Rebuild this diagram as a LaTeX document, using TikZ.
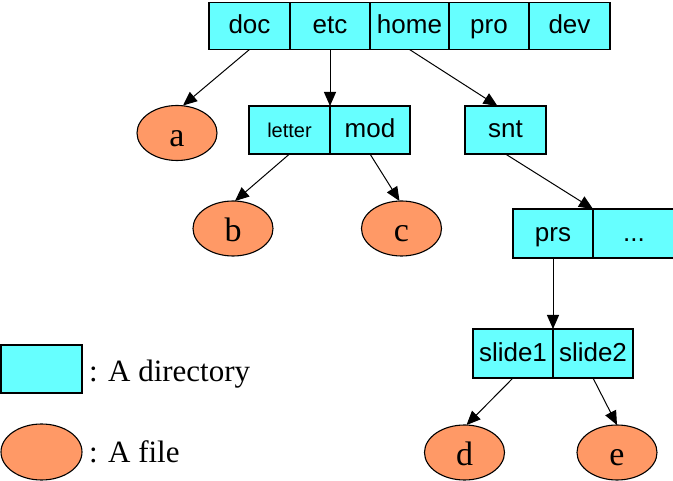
\documentclass[tikz,border=0pt]{standalone}
\usepackage{fontspec}
\setmainfont{Liberation Serif}
\setsansfont{Liberation Sans}
\usetikzlibrary{shapes.geometric,arrows.meta}
\definecolor{dircyan}{HTML}{66FFFF}
\definecolor{fileorange}{HTML}{FF9966}
\begin{document}
\begin{tikzpicture}[x=1pt,y=-1pt,
  dirbox/.style={draw=black, line width=1.1pt, fill=dircyan, minimum height=47, inner sep=0, outer sep=0,
    font=\sffamily\fontsize{26}{30}\selectfont, text height=20, text depth=4},
  filenode/.style={ellipse, draw=black, line width=1.1pt, fill=fileorange, minimum width=80, minimum height=55,
    inner sep=0, outer sep=0, font=\rmfamily\fontsize{34}{38}\selectfont, text height=28, text depth=1},
  legendtext/.style={anchor=base west, inner sep=0, font=\rmfamily\fontsize{31}{35}\selectfont},
  arr/.style={-{Triangle[length=14pt,width=12pt]}, line width=1pt}
]
\clip (0,0) rectangle (673,481);
% top row
\node[dirbox, minimum width=81] (doc)  at (249.5,26) {doc};
\node[dirbox, minimum width=80] (etc)  at (330,26)   {etc};
\node[dirbox, minimum width=79] (home) at (409.5,26) {home};
\node[dirbox, minimum width=80] (pro)  at (489,26)   {pro};
\node[dirbox, minimum width=81] (dev)  at (569.5,26) {dev};
% second level
\node[dirbox, minimum width=81, minimum height=48] (letter) at (289.5,130) {\fontsize{20}{24}\selectfont letter};
\node[dirbox, minimum width=80, minimum height=48] (mod)    at (370,130)   {mod};
\node[dirbox, minimum width=81, minimum height=48] (snt)    at (505.5,130) {snt};
\node[dirbox, minimum width=80, minimum height=49] (prs)    at (553,233.5) {prs};
\node[dirbox, minimum width=82, minimum height=49] (dots)   at (634,233.5) {...};
\node[dirbox, minimum width=80, minimum height=49] (slide1) at (513,353.5) {slide1};
\node[dirbox, minimum width=80, minimum height=49] (slide2) at (593,353.5) {slide2};
% files
\node[filenode] (a) at (177,133) {a};
\node[filenode] (b) at (233,228.5) {b};
\node[filenode] (c) at (401.5,228.5) {c};
\node[filenode] (d) at (464.5,452.5) {d};
\node[filenode] (e) at (617,452.5) {e};
% legend
\node[dirbox, minimum width=81, minimum height=48] (ldir) at (41.5,369) {};
\node[filenode, minimum width=81, minimum height=56] (lfile) at (41.5,452) {};
\node[legendtext] (tdir) at (89,382) {: A directory};
\node[legendtext] (tfile) at (89,462) {: A file};
% connectors
\draw[arr] (doc.south) -- ([xshift=6]a.north);
\draw[arr] (etc.south) -- (letter.north east);
\draw[arr] (home.south) -- ([xshift=-8]snt.north);
\draw[arr] (letter.south) -- ([xshift=2]b.north);
\draw[arr] (mod.south) -- ([xshift=-2]c.north);
\draw[arr] (snt.south) -- (prs.north east);
\draw[arr] (prs.south) -- (slide1.north east);
\draw[arr] (slide1.south) -- ([xshift=2]d.north);
\draw[arr] (slide2.south) -- (e.north);
\end{tikzpicture}
\end{document}
